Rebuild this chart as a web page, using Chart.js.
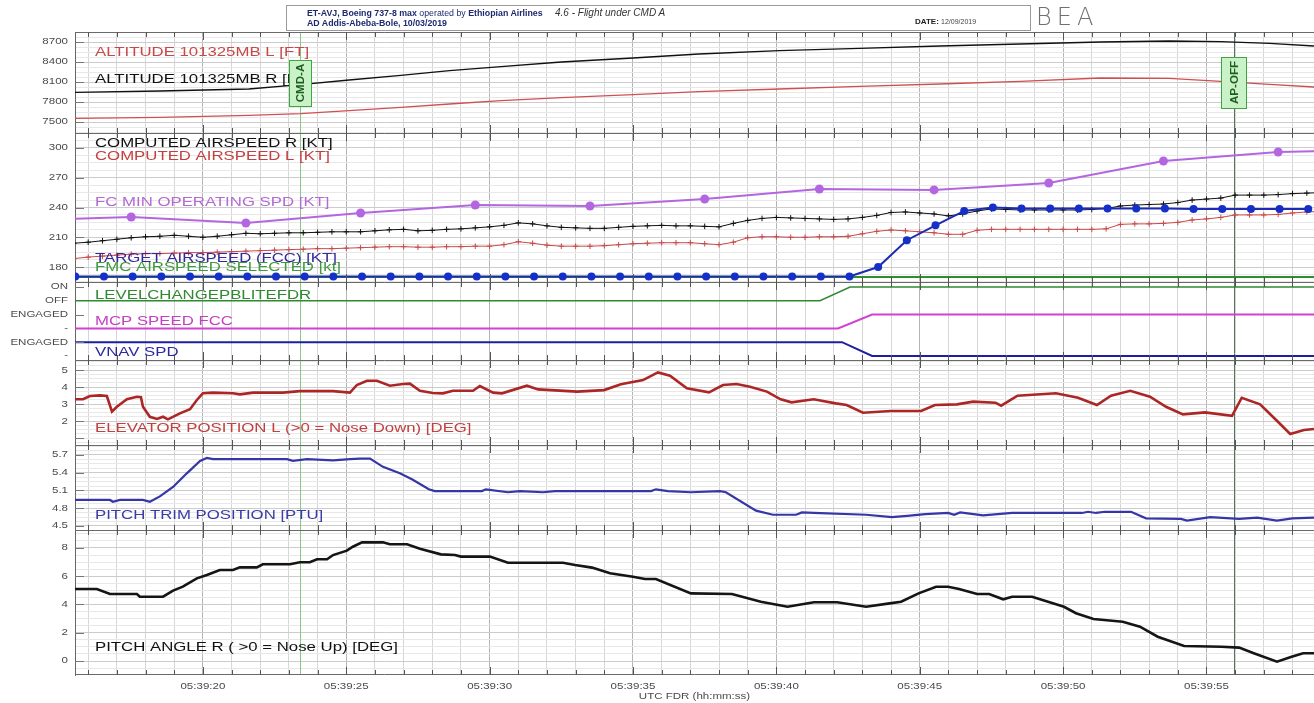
<!DOCTYPE html>
<html>
<head>
<meta charset="utf-8">
<title>4.6 - Flight under CMD A</title>
<script src="https://cdn.jsdelivr.net/npm/chart.js@4.4.1/dist/chart.umd.min.js"></script>
<style>
  html, body { margin: 0; padding: 0; background: #fff; }
  #wrap { position: relative; width: 1314px; height: 703px; overflow: hidden; }
  #fdr { position: absolute; left: 0; top: 0; }
  .hdr { position: absolute; left: 286px; top: 5px; width: 743px; height: 24px; border: 1px solid #9a9a9a;
         background: #fff; font-family: 'Liberation Sans', Arial, sans-serif; color: #1d2a70; }
  .hdr .l1 { position: absolute; left: 20px; top: 2px; font-size: 8.8px; white-space: nowrap; }
  .hdr .l2 { position: absolute; left: 20px; top: 12px; font-size: 8.8px; font-weight: bold; white-space: nowrap; }
  .hdr .ttl { position: absolute; left: 268px; top: 1px; font-size: 10px; font-style: italic; color: #333; white-space: nowrap; }
  .hdr .date { position: absolute; left: 628px; top: 11px; font-size: 8px; font-weight: bold; color: #222; white-space: nowrap; }
  .hdr .date span { font-weight: normal; font-size: 7px; color: #444; }
  .bea { position: absolute; left: 1036px; top: 3px; font-family: 'DejaVu Sans', sans-serif; font-weight: 200;
         font-size: 24px; letter-spacing: 5px; color: #707070; }
</style>
</head>
<body>
<div id="wrap">
  <canvas id="fdr" width="1314" height="703"></canvas>
  <div class="hdr">
    <div class="l1"><b>ET-AVJ, Boeing 737-8 max</b> operated by <b>Ethiopian Airlines</b></div>
    <div class="l2">AD Addis-Abeba-Bole, 10/03/2019</div>
    <div class="ttl">4.6 - Flight under CMD A</div>
    <div class="date">DATE: <span>12/09/2019</span></div>
  </div>
  <div class="bea">BEA</div>
</div>
<script>
// FDR plot - seconds after 05:39:00 UTC on the x axis

const FONT = "'Liberation Sans', Arial, sans-serif";
const xMin = 15.54, xMax = 58.75;

// altitude panel [ft]
const altTime = [15.5, 18.5, 21.6, 23.4, 25.1, 26.9, 28.6, 30.4, 32.5, 35.0, 37.3, 40.1, 42.9, 45.7, 48.5, 51.3, 53.7, 55.5, 57.2, 58.75];
const altR = [7945, 7965, 7995, 8060, 8130, 8200, 8270, 8330, 8400, 8460, 8520, 8570, 8605, 8640, 8670, 8700, 8715, 8705, 8680, 8640];
const altL = [7555, 7570, 7600, 7625, 7670, 7720, 7770, 7820, 7865, 7910, 7955, 7995, 8035, 8070, 8110, 8160, 8155, 8110, 8065, 8025];

// airspeed panel [kt], computed airspeed sampled every 0.5 s from 15.5 s
const casR = [204, 205, 206.5, 208, 209.5, 210.5, 211, 212, 211, 210, 211, 212.5, 214, 213.5, 214, 214.5, 214.5, 215, 215.5, 215.5,
  215.5, 216.5, 217.5, 218, 216.5, 217, 218, 218.5, 219.5, 220.5, 222, 224.5, 223.5, 221.5, 220, 219.5, 219, 219, 220, 221,
  221.5, 222, 221.5, 221.5, 221, 220.5, 224, 227, 229, 230, 229.5, 229, 228.5, 228, 228.5, 230, 232, 235, 235.5, 234.5,
  233.5, 231.5, 233.5, 236.5, 238.5, 238, 237.5, 237.5, 237.5, 237.5, 237.5, 238, 239, 241.5, 242.5, 243, 243.5, 245, 247.5, 248.5,
  249.5, 252.5, 252.5, 252.5, 253, 254, 254.5, 255];
const casL = [188.5, 190, 191, 192, 193, 193.5, 193.5, 194, 194.5, 194.5, 195, 195.5, 196, 196.5, 197, 197.5, 198, 198.5, 198.5, 199,
  199.5, 200, 200.5, 200.5, 200, 200, 200.5, 200.5, 201, 201, 202.5, 205.5, 204, 202, 201, 201, 201, 201.5, 202.5, 203.5,
  204, 204.5, 204.5, 204.5, 203.5, 202.5, 205, 209.5, 210.5, 210.5, 210, 210, 210.5, 210.5, 211, 213.5, 216, 217.3, 216.5, 215.5,
  214.5, 213, 213, 217, 218, 218, 218, 218, 218, 218, 218, 218, 218.5, 223, 223.5, 223.5, 224, 225, 227.4, 228.5,
  230, 232.5, 232.5, 232.5, 233, 234.5, 235.5, 236];
const casTime = casR.map((v, i) => 15.5 + i * 0.5);

const fcMinTime = [13.5, 17.5, 21.5, 25.5, 29.5, 33.5, 37.5, 41.5, 45.5, 49.5, 53.5, 57.5, 61.5];
const fcMinSpd = [227, 230.4, 224.4, 234.5, 242.5, 241.5, 248.6, 258.7, 257.7, 264.7, 286.9, 296, 298];

// target airspeed (FCC), one sample per second from 15.55 s
const targetSpd = [170.5, 170.5, 170.5, 170.5, 170.5, 170.5, 170.5, 170.5, 170.5, 170.5, 170.5, 170.5, 170.5, 170.5, 170.5,
  170.5, 170.5, 170.5, 170.5, 170.5, 170.5, 170.5, 170.5, 170.5, 170.5, 170.5, 170.5, 170.5,
  180, 207, 222, 236.5, 240, 239, 239, 239, 239, 239, 239, 238.5, 238.5, 238.5, 238.5, 238.5];
const targetTime = targetSpd.map((v, i) => 15.55 + i);

const fmcSelTime = [15.5, 59];
const fmcSel = [170, 170];

// mode discretes (0..5 rows: -, ENGAGED, -, ENGAGED, OFF, ON)
const modeRows = ['-', 'ENGAGED', '-', 'ENGAGED', 'OFF', 'ON'];
const lvlTime = [15.5, 41.52, 42.57, 59];
const lvlChange = [4, 4, 5, 5];
const mcpTime = [15.5, 42.15, 43.34, 59];
const mcpSpeed = [2, 2, 3, 3];
const vnavTime = [15.5, 42.29, 43.34, 59];
const vnavSpd = [1, 1, 0, 0];

// elevator position L [deg]
const elevTime = [15.54, 15.82, 16.06, 16.41, 16.65, 16.83, 17.0, 17.35, 17.7, 17.84, 17.91, 18.15, 18.4, 18.61, 18.78, 19.2, 19.55, 19.79,
  20.0, 20.35, 21.05, 21.29, 21.75, 22.79, 23.38, 24.54, 25.13, 25.37, 25.72, 26.07, 26.52, 26.98, 27.22, 27.57, 28.02, 28.37,
  28.72, 29.42, 29.66, 30.12, 30.43, 31.3, 31.69, 33.05, 33.99, 34.58, 35.35, 35.87, 36.29, 36.88, 37.65, 38.14, 38.61, 39.08,
  39.67, 40.15, 40.53, 41.3, 42.07, 42.45, 43.02, 43.99, 45.05, 45.53, 46.3, 46.86, 47.64, 47.84, 48.41, 49.75, 50.52, 51.18,
  51.67, 52.34, 53.03, 53.59, 54.18, 54.95, 55.89, 56.23, 56.87, 57.43, 57.92, 58.4, 58.75];
const elevDeg = [3.28, 3.28, 3.47, 3.51, 3.47, 2.55, 2.84, 3.28, 3.43, 3.4, 2.84, 2.25, 2.12, 2.25, 2.1, 2.45, 2.69, 3.24,
  3.63, 3.67, 3.63, 3.57, 3.67, 3.67, 3.76, 3.76, 3.67, 4.12, 4.37, 4.37, 4.08, 4.18, 4.2, 3.78, 3.65, 3.63,
  3.78, 3.78, 4.06, 3.67, 3.63, 4.08, 3.86, 3.73, 3.82, 4.16, 4.41, 4.86, 4.67, 3.92, 3.69, 4.12, 4.18, 4.02,
  3.73, 3.28, 3.1, 3.28, 3.04, 2.94, 2.49, 2.59, 2.59, 2.94, 2.98, 3.14, 3.08, 2.9, 3.49, 3.63, 3.37, 2.94,
  3.49, 3.78, 3.43, 2.84, 2.39, 2.51, 2.31, 3.37, 2.98, 2.06, 1.24, 1.47, 1.53];

// pitch trim position [PTU]
const trimTime = [15.54, 16.76, 16.86, 17.11, 17.91, 18.15, 18.5, 18.96, 19.44, 19.9, 20.14, 20.35, 22.93, 23.14, 23.63, 24.54, 25.13,
  25.48, 25.83, 26.28, 26.87, 27.29, 27.88, 28.09, 29.73, 29.87, 30.64, 31.06, 31.86, 32.28, 35.63, 35.8, 36.22, 37.02, 38.03,
  38.24, 39.29, 39.88, 40.69, 40.89, 41.31, 43.13, 44.03, 44.56, 45.19, 45.99, 46.2, 46.41, 47.21, 48.22, 50.66, 50.87, 51.15,
  51.46, 52.37, 52.89, 54.11, 54.32, 55.13, 56.14, 56.77, 57.46, 57.99, 58.75];
const trimPtu = [4.94, 4.94, 4.91, 4.94, 4.94, 4.91, 5.0, 5.16, 5.39, 5.6, 5.65, 5.63, 5.63, 5.6, 5.63, 5.61, 5.63,
  5.64, 5.64, 5.5, 5.39, 5.29, 5.12, 5.09, 5.09, 5.12, 5.07, 5.09, 5.07, 5.09, 5.09, 5.12, 5.09, 5.07, 5.09,
  5.07, 4.76, 4.69, 4.69, 4.73, 4.72, 4.69, 4.65, 4.67, 4.7, 4.72, 4.69, 4.73, 4.68, 4.72, 4.72, 4.74, 4.72,
  4.74, 4.74, 4.63, 4.62, 4.59, 4.65, 4.62, 4.64, 4.59, 4.63, 4.64];

// pitch angle R [deg]
const pitchTime = [15.54, 16.3, 16.76, 17.7, 17.8, 18.61, 18.96, 19.3, 19.79, 20.14, 20.59, 21.05, 21.29, 21.88, 22.09, 23.04, 23.38,
  23.73, 23.98, 24.33, 24.54, 25.02, 25.23, 25.55, 26.28, 26.52, 27.12, 27.57, 28.3, 28.79, 29.0, 30.01, 30.64, 32.56, 32.98,
  33.57, 34.2, 35.0, 35.42, 35.8, 37.02, 38.45, 39.46, 40.39, 41.31, 42.12, 43.13, 43.95, 44.35, 44.96, 45.57, 45.99, 46.37,
  47.0, 47.42, 47.91, 48.22, 48.92, 50.03, 50.45, 51.06, 52.08, 52.68, 53.3, 54.22, 55.53, 56.14, 56.65, 57.46, 57.97, 58.37, 58.75];
const pitchDeg = [5.1, 5.1, 4.74, 4.74, 4.55, 4.55, 4.98, 5.26, 5.85, 6.09, 6.44, 6.44, 6.63, 6.63, 6.85, 6.85, 6.99,
  6.99, 7.2, 7.2, 7.5, 7.81, 8.09, 8.4, 8.4, 8.26, 8.26, 7.95, 7.55, 7.5, 7.39, 7.39, 6.96, 6.96, 6.8,
  6.61, 6.21, 5.97, 5.81, 5.81, 4.79, 4.74, 4.2, 3.84, 4.16, 4.16, 3.84, 4.08, 4.2, 4.79, 5.26, 5.26, 5.1,
  4.74, 4.74, 4.37, 4.55, 4.55, 3.84, 3.38, 2.97, 2.78, 2.43, 1.72, 1.06, 1.01, 0.95, 0.55, -0.05, 0.3, 0.55, 0.55];

// tick labels per panel
const altTicks = [7500, 7800, 8100, 8400, 8700];
const casTicks = [180, 210, 240, 270, 300];
const modeTicks = [0, 1, 2, 3, 4, 5];
const elevTicks = [2, 3, 4, 5];
const trimTicks = [4.5, 4.8, 5.1, 5.4, 5.7];
const pitchTicks = [0, 2, 4, 6, 8];

// events
const events = [
  { t: 23.38, label: 'CMD-A', line: '#86c986', boxTop: 60, boxH: 46, boxW: 22 },
  { t: 55.96, label: 'AP-OFF', line: '#53735a', boxTop: 57, boxH: 51, boxW: 25 }
];

const pts = (ts, vs) => ts.map((t, i) => ({ x: t, y: vs[i] }));

// stacked panels, listed bottom to top
const panels = [
  { id: 'pitch', min: -0.991, max: 9.274, step: 0.5, ticks: pitchTicks, marks: pitchTicks, weight: 145 },
  { id: 'trim', min: 4.432, max: 5.869, step: 0.075, ticks: trimTicks, marks: trimTicks, weight: 85 },
  { id: 'elev', min: 0.59, max: 5.59, step: 0.25, ticks: elevTicks, marks: [1, 2, 3, 4, 5], weight: 85 },
  { id: 'mode', min: -0.29, max: 5.36, step: 1, ticks: modeTicks, marks: [1, 3, 5], weight: 78, names: modeRows },
  { id: 'cas', min: 164.9, max: 315.1, step: 7.5, ticks: casTicks, marks: casTicks, weight: 149 },
  { id: 'alt', min: 7335, max: 8850, step: 75, ticks: altTicks, marks: altTicks, weight: 101 }
];

const scales = {
  x: {
    type: 'linear', min: xMin, max: xMax,
    afterBuildTicks: s => {
      const t = [];
      for (let v = 16; v <= 58; v++) t.push({ value: v });
      s.ticks = t;
    },
    ticks: { display: false, autoSkip: false },
    grid: { drawTicks: false, lineWidth: 1, color: c => (c.tick && c.tick.value % 5 === 0) ? '#b4b4b4' : '#d6d6d6' },
    border: { display: false },
    afterFit: s => { s.height = 28; }
  }
};

panels.forEach(p => {
  scales[p.id] = {
    type: 'linear', position: 'left', stack: 'fdr', stackWeight: p.weight, min: p.min, max: p.max, offset: false,
    afterBuildTicks: s => {
      const t = [];
      const start = Math.ceil(p.min / p.step - 1e-6);
      for (let k = start; k * p.step <= p.max + 1e-9; k++) t.push({ value: +(k * p.step).toFixed(4) });
      s.ticks = t;
    },
    ticks: { display: false, autoSkip: false },
    grid: {
      drawTicks: false, lineWidth: 1,
      color: c => {
        if (!c.tick) return '#eee';
        if (p.id === 'mode') return 'rgba(0,0,0,0)';
        return p.ticks.some(v => Math.abs(v - c.tick.value) < 1e-6) ? '#cccccc' : '#e8e8e8';
      }
    },
    border: { color: '#666' },
    afterFit: s => { s.width = 75; }
  };
});

function sText(ctx, txt, x, y, size, color, align, sx, weight) {
  ctx.save();
  ctx.font = (weight || '') + ' ' + size + 'px ' + FONT;
  ctx.fillStyle = color;
  ctx.textBaseline = 'middle';
  ctx.textAlign = align || 'left';
  ctx.translate(x, y);
  ctx.scale(sx || 1, 1);
  ctx.fillText(txt, 0, 0);
  ctx.restore();
}

const panelLabels = {
  alt: [['ALTITUDE 101325MB L [FT]', 20, '#c84848'], ['ALTITUDE 101325MB R [FT]', 47, '#111']],
  cas: [['COMPUTED AIRSPEED R [KT]', 10, '#111'], ['COMPUTED AIRSPEED L [KT]', 23, '#c44040'],
        ['FC MIN OPERATING SPD [KT]', 69, '#b46ad2'], ['TARGET AIRSPEED (FCC) [KT]', 125, '#33289a'],
        ['FMC AIRSPEED SELECTED [kt]', 134, '#3d9a3d']],
  mode: [['LEVELCHANGEPBLITEFDR', 13, '#2f8a2f'], ['MCP SPEED FCC', 39, '#c43fc4'], ['VNAV SPD', 70, '#2a2aa0']],
  elev: [['ELEVATOR POSITION L (>0 = Nose Down) [DEG]', 68, '#c04040']],
  trim: [['PITCH TRIM POSITION [PTU]', 70, '#3a3aa8']],
  pitch: [['PITCH ANGLE R ( >0 = Nose Up) [DEG]', 117, '#111']]
};

const decor = {
  id: 'decor',
  beforeDatasetsDraw(chart) {
    const { ctx, chartArea: a } = chart;
    const xs = chart.scales.x;
    ctx.save();
    events.forEach(e => {
      const px = Math.round(xs.getPixelForValue(e.t)) + 0.5;
      ctx.strokeStyle = e.line;
      ctx.lineWidth = 1;
      ctx.beginPath(); ctx.moveTo(px, a.top); ctx.lineTo(px, a.bottom); ctx.stroke();
    });
    ctx.restore();
  },
  afterDatasetsDraw(chart) {
    const { ctx, chartArea: a } = chart;
    const xs = chart.scales.x;
    ctx.save();
    // panel frames
    ctx.strokeStyle = '#6a6a6a';
    ctx.lineWidth = 1;
    panels.forEach(p => {
      const s = chart.scales[p.id];
      const y = Math.round(s.top) + 0.5;
      ctx.beginPath(); ctx.moveTo(a.left, y); ctx.lineTo(a.right, y); ctx.stroke();
    });
    ctx.beginPath(); ctx.moveTo(a.left, Math.round(a.bottom) - 0.5); ctx.lineTo(a.right, Math.round(a.bottom) - 0.5); ctx.stroke();
    // time tick marks on every panel edge
    ctx.strokeStyle = '#555';
    panels.forEach(p => {
      const s = chart.scales[p.id];
      xs.ticks.forEach(t => {
        const px = Math.round(xs.getPixelForValue(t.value)) + 0.5;
        const len = t.value % 5 === 0 ? 8 : 5;
        ctx.beginPath();
        ctx.moveTo(px, s.top); ctx.lineTo(px, s.top + len);
        ctx.moveTo(px, s.bottom); ctx.lineTo(px, s.bottom - len);
        ctx.stroke();
      });
    });
    // value tick marks + labels
    panels.forEach(p => {
      const s = chart.scales[p.id];
      ctx.strokeStyle = '#777';
      p.marks.forEach(v => {
        const py = Math.round(s.getPixelForValue(v)) + 0.5;
        ctx.beginPath(); ctx.moveTo(a.left, py); ctx.lineTo(a.left + 9, py); ctx.stroke();
      });
      p.ticks.forEach((v, i) => {
        const txt = p.names ? p.names[i] : String(v);
        sText(ctx, txt, a.left - 7, s.getPixelForValue(v), 9, '#4a4a4a', 'right', 1.28);
      });
      (panelLabels[p.id] || []).forEach(l => sText(ctx, l[0], 95, s.top + l[1], 13, l[2], 'left', 1.29));
    });
    // time labels
    xs.ticks.forEach(t => {
      if (t.value % 5 !== 0) return;
      sText(ctx, '05:39:' + String(t.value).padStart(2, '0'), xs.getPixelForValue(t.value), a.bottom + 12, 9, '#4a4a4a', 'center', 1.28);
    });
    sText(ctx, 'UTC FDR (hh:mm:ss)', (a.left + a.right) / 2, a.bottom + 22, 9, '#4a4a4a', 'center', 1.28);
    // event boxes
    events.forEach(e => {
      const px = xs.getPixelForValue(e.t);
      const bx = Math.round(px - e.boxW / 2) + 0.5;
      ctx.fillStyle = '#c9f2c9';
      ctx.strokeStyle = '#3fa63f';
      ctx.fillRect(bx, e.boxTop + 0.5, e.boxW, e.boxH);
      ctx.strokeRect(bx, e.boxTop + 0.5, e.boxW, e.boxH);
      ctx.save();
      ctx.translate(px + 1, e.boxTop + e.boxH / 2);
      ctx.rotate(-Math.PI / 2);
      sText(ctx, e.label, 0, 0, 11, '#1d5e1d', 'center', 1.05, 'bold');
      ctx.restore();
    });
    ctx.restore();
  }
};

new Chart(document.getElementById('fdr'), {
  type: 'line',
  data: {
    datasets: [
      { label: 'FC MIN OPERATING SPD', yAxisID: 'cas', data: pts(fcMinTime, fcMinSpd), borderColor: '#b466e0', backgroundColor: '#b466e0',
        borderWidth: 2, pointRadius: 4.5, pointBorderWidth: 0 },
      { label: 'TARGET AIRSPEED (FCC)', yAxisID: 'cas', data: pts(targetTime, targetSpd), borderColor: '#1c2ab4', backgroundColor: '#1530c8',
        borderWidth: 2, pointRadius: 4, pointBorderWidth: 0 },
      { label: 'FMC AIRSPEED SELECTED', yAxisID: 'cas', data: pts(fmcSelTime, fmcSel), borderColor: '#2f8f2f', borderWidth: 2, pointRadius: 0 },
      { label: 'COMPUTED AIRSPEED R', yAxisID: 'cas', data: pts(casTime, casR), borderColor: '#111', backgroundColor: '#111',
        borderWidth: 1, pointStyle: 'cross', pointRadius: 2.8, pointBorderWidth: 1 },
      { label: 'COMPUTED AIRSPEED L', yAxisID: 'cas', data: pts(casTime, casL), borderColor: '#c84a4a', backgroundColor: '#c84a4a',
        borderWidth: 1, pointStyle: 'cross', pointRadius: 2.8, pointBorderWidth: 1 },
      { label: 'ALTITUDE R', yAxisID: 'alt', data: pts(altTime, altR), borderColor: '#111', borderWidth: 1.3, pointRadius: 0 },
      { label: 'ALTITUDE L', yAxisID: 'alt', data: pts(altTime, altL), borderColor: '#d05050', borderWidth: 1.3, pointRadius: 0 },
      { label: 'LEVELCHANGEPBLITEFDR', yAxisID: 'mode', data: pts(lvlTime, lvlChange), borderColor: '#2f8a2f', borderWidth: 1.5, pointRadius: 0 },
      { label: 'MCP SPEED FCC', yAxisID: 'mode', data: pts(mcpTime, mcpSpeed), borderColor: '#d042d0', borderWidth: 2, pointRadius: 0 },
      { label: 'VNAV SPD', yAxisID: 'mode', data: pts(vnavTime, vnavSpd), borderColor: '#1e1ea0', borderWidth: 2, pointRadius: 0 },
      { label: 'ELEVATOR POSITION L', yAxisID: 'elev', data: pts(elevTime, elevDeg), borderColor: '#ad2626', borderWidth: 2.6, pointRadius: 0 },
      { label: 'PITCH TRIM POSITION', yAxisID: 'trim', data: pts(trimTime, trimPtu), borderColor: '#3636a6', borderWidth: 2.2, pointRadius: 0 },
      { label: 'PITCH ANGLE R', yAxisID: 'pitch', data: pts(pitchTime, pitchDeg), borderColor: '#151515', borderWidth: 2.6, pointRadius: 0 }
    ]
  },
  options: {
    responsive: false,
    animation: false,
    devicePixelRatio: 1,
    events: [],
    layout: { autoPadding: false, padding: { top: 32, left: 0, right: 0, bottom: 0 } },
    elements: { line: { tension: 0 } },
    plugins: { legend: { display: false }, tooltip: { enabled: false } },
    scales: scales
  },
  plugins: [decor]
});
</script>
</body>
</html>
